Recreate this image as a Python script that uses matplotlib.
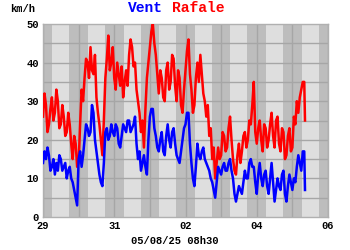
import numpy as np
import matplotlib
matplotlib.use('Agg')
import matplotlib.pyplot as plt

# hourly readings (km/h) from 29/07 00h00, last one at 05/08 08h30
rafale = [26, 32, 29, 22, 24, 28, 31, 25, 27, 33, 30, 23, 24, 29, 26, 21, 22, 27, 24, 19, 15, 21, 19, 13,
          14, 24, 33, 30, 36, 41, 40, 36, 44, 38, 37, 42, 31, 27, 24, 20, 16, 25, 36, 41, 47, 38, 40, 44,
          36, 33, 40, 37, 34, 39, 31, 35, 38, 34, 42, 46, 44, 39, 40, 33, 30, 27, 22, 25, 18, 28, 36, 40,
          44, 48, 50, 45, 42, 37, 32, 38, 36, 31, 30, 38, 40, 33, 35, 42, 41, 34, 30, 38, 36, 29, 27, 33,
          38, 43, 46, 37, 33, 27, 29, 36, 40, 35, 42, 37, 32, 30, 26, 29, 21, 23, 15, 18, 10, 14, 18, 15,
          16, 22, 21, 17, 18, 23, 26, 20, 15, 12, 11, 16, 19, 14, 17, 21, 22, 18, 20, 25, 24, 29, 35, 22,
          19, 23, 25, 20, 17, 24, 23, 18, 20, 24, 27, 21, 18, 25, 26, 19, 17, 23, 22, 15, 16, 21, 23, 17,
          18, 26, 24, 30, 27, 31, 33, 35, 35, 25]
vent = [14, 17, 15, 18, 16, 12, 13, 15, 11, 14, 12, 16, 15, 12, 13, 14, 10, 12, 13, 10, 9, 7, 5, 3,
        15, 17, 13, 16, 20, 24, 23, 21, 22, 29, 27, 20, 17, 14, 11, 9, 8, 14, 22, 23, 20, 21, 24, 22,
        21, 24, 23, 19, 18, 21, 24, 23, 22, 25, 25, 22, 23, 24, 26, 19, 15, 17, 12, 14, 16, 13, 11, 20,
        26, 28, 28, 23, 21, 18, 17, 20, 22, 17, 16, 21, 24, 20, 18, 22, 23, 19, 16, 15, 14, 17, 20, 23,
        24, 27, 27, 19, 14, 10, 8, 13, 19, 16, 15, 17, 18, 15, 14, 13, 12, 10, 9, 7, 5, 9, 13, 12,
        11, 13, 14, 12, 12, 14, 15, 12, 10, 6, 4, 6, 8, 7, 6, 9, 12, 10, 10, 14, 15, 13, 13, 9,
        6, 11, 14, 10, 8, 11, 12, 8, 6, 10, 14, 9, 4, 7, 10, 8, 7, 11, 12, 6, 4, 8, 11, 9,
        7, 10, 9, 13, 16, 14, 12, 17, 17, 7]
day_labels = ['29', '31', '02', '04', '06']
y_ticks = [0, 10, 20, 30, 40, 50]
stamp = '05/08/25 08h30'

n = len(vent)
t = np.arange(n) / 24.0
t[-1] = 7 + 8.5 / 24            # last reading at 08h30

mono = 'Liberation Mono'
fig = plt.figure(figsize=(3.5, 2.5), dpi=100)
ax = fig.add_axes([43 / 350, 33 / 250, 285 / 350, 193 / 250])
ax.set_facecolor('#dedede')

# night bands around each midnight
for d in range(0, 9):
    ax.axvspan(d - 0.26, d + 0.26, color='#bdbdbd', lw=0, zorder=0)

for d in range(0, 9):
    ax.axvline(d, color='#a6a6a6', lw=1, zorder=1)
for v in range(5, 50, 5):
    ax.axhline(v, color='#a6a6a6', lw=1, zorder=1)

ax.plot(t, rafale, color='#ff0000', lw=1.8, zorder=3)
ax.plot(t, vent, color='#0000ff', lw=1.8, zorder=4)

ax.set_xlim(0, 8)
ax.set_ylim(0, 50)
ax.set_xticks([0, 2, 4, 6, 8])
ax.set_xticklabels(day_labels)
ax.set_yticks(y_ticks)
ax.tick_params(length=0, labelsize=7.5, pad=3)
for lab in ax.get_xticklabels() + ax.get_yticklabels():
    lab.set_fontfamily(mono)
    lab.set_fontweight('bold')
for s in ax.spines.values():
    s.set_color('#b0b0b0')
    s.set_linewidth(1)

fig.text(128 / 350, 0.966, 'Vent', color='#0000ff', fontsize=10.5,
         family=mono, weight='bold', ha='left', va='center')
fig.text(172 / 350, 0.966, 'Rafale', color='#ff0000', fontsize=10.5,
         family=mono, weight='bold', ha='left', va='center')
fig.text(0.03, 0.962, 'km/h', fontsize=7.5, family=mono, weight='bold',
         ha='left', va='center')
fig.text(0.5, 0.035, stamp, fontsize=7.5, family=mono, weight='bold',
         ha='center', va='center')

fig.savefig('out.png', dpi=100)
